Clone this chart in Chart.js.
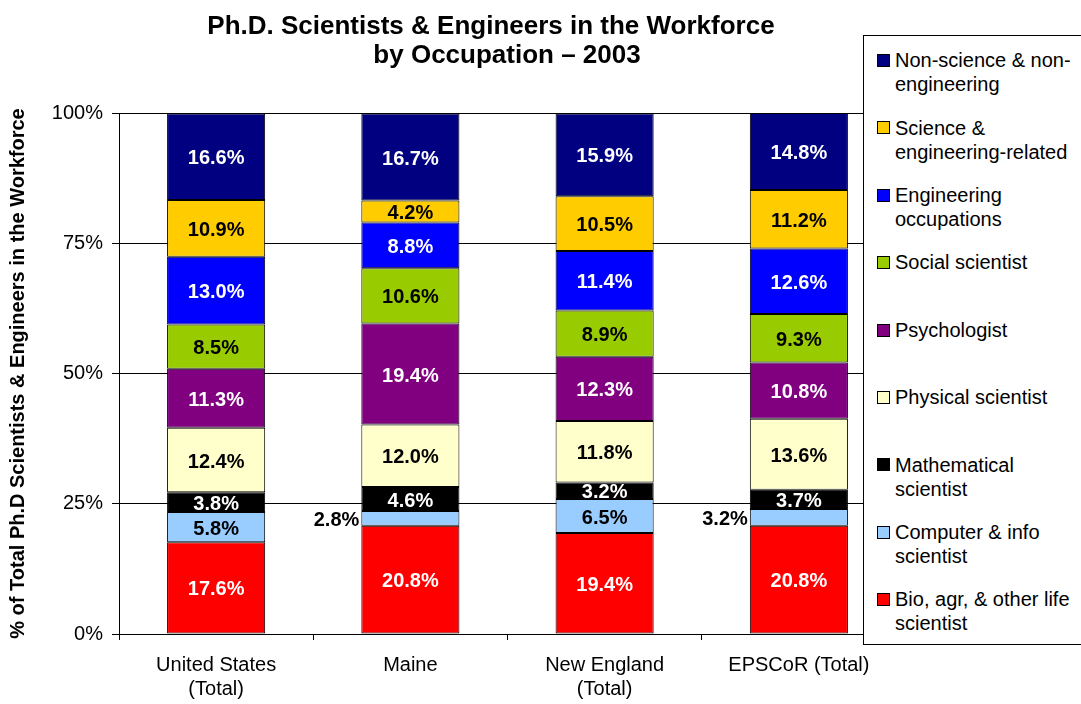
<!DOCTYPE html>
<html>
<head>
<meta charset="utf-8">
<script src="https://cdn.jsdelivr.net/npm/chart.js@4"></script>
<style>
  body { margin: 0; background: #fff; font-family: Arial, "Liberation Sans", sans-serif; color: #000; }
  #wrap { position: relative; width: 1081px; height: 704px; overflow: hidden; }
  #chart { position: absolute; left: 0; top: 0; }
  .title { position: absolute; font-weight: bold; font-size: 26px; line-height: 30px; white-space: nowrap; transform: translateX(-50%); }
  #legend { position: absolute; left: 863px; top: 35px; width: 240px; height: 608px; border: 1px solid #000; background: #fff; }
  .swatch { position: absolute; left: 13px; width: 11px; height: 11px; border: 1px solid #000; }
  .text { position: absolute; left: 31px; font-size: 20px; line-height: 24px; white-space: nowrap; }
</style>
</head>
<body>
<div id="wrap">
  <canvas id="chart" width="1081" height="704"></canvas>
  <div class="title" style="left:491px; top:10px;">Ph.D. Scientists &amp; Engineers in the Workforce</div>
  <div class="title" style="left:507px; top:39px;">by Occupation – 2003</div>
  <div id="legend"></div>
</div>
<script>
// columns
const categories = [['United States', '(Total)'], 'Maine', ['New England', '(Total)'], 'EPSCoR (Total)'];

// occupation shares (%), one array per stack segment, bottom to top
const bioLife      = [17.6, 20.8, 19.4, 20.8];
const computerInfo = [5.8, 2.8, 6.5, 3.2];
const mathematical = [3.8, 4.6, 3.2, 3.7];
const physical     = [12.4, 12.0, 11.8, 13.6];
const psychologist = [11.3, 19.4, 12.3, 10.8];
const social       = [8.5, 10.6, 8.9, 9.3];
const engineering  = [13.0, 8.8, 11.4, 12.6];
const seRelated    = [10.9, 4.2, 10.5, 11.2];
const nonScience   = [16.6, 16.7, 15.9, 14.8];

const yTicks = [0, 25, 50, 75, 100];

const series = [
  { lines: ['Bio, agr, & other life', 'scientist'], data: bioLife,      color: '#FF0000', text: '#fff' },
  { lines: ['Computer & info', 'scientist'],        data: computerInfo, color: '#99CCFF', text: '#000' },
  { lines: ['Mathematical', 'scientist'],           data: mathematical, color: '#000000', text: '#fff' },
  { lines: ['Physical scientist'],                  data: physical,     color: '#FFFFCC', text: '#000' },
  { lines: ['Psychologist'],                        data: psychologist, color: '#800080', text: '#fff' },
  { lines: ['Social scientist'],                    data: social,       color: '#99CC00', text: '#000' },
  { lines: ['Engineering', 'occupations'],          data: engineering,  color: '#0000FF', text: '#fff' },
  { lines: ['Science &', 'engineering-related'],    data: seRelated,    color: '#FFCC00', text: '#000' },
  { lines: ['Non-science & non-', 'engineering'],   data: nonScience,   color: '#000080', text: '#fff' }
];

Chart.defaults.font.family = 'Arial, "Liberation Sans", sans-serif';
Chart.defaults.color = '#000';

// percentage text on each segment; thin light segments get it beside the bar
const valueLabels = {
  id: 'valueLabels',
  afterDatasetsDraw(chart) {
    const ctx = chart.ctx;
    ctx.save();
    ctx.font = 'bold 20px Arial, "Liberation Sans", sans-serif';
    ctx.textBaseline = 'middle';
    chart.data.datasets.forEach((ds, i) => {
      chart.getDatasetMeta(i).data.forEach((bar, j) => {
        const v = ds.data[j];
        const txt = v.toFixed(1) + '%';
        const p = bar.getProps(['x', 'y', 'base', 'width'], true);
        const cy = (p.y + p.base) / 2 + 2;
        if (v < 3.5 && ds.labelColor === '#000') {
          ctx.fillStyle = '#000';
          ctx.textAlign = 'right';
          ctx.fillText(txt, p.x - p.width / 2 - 2, cy);
        } else {
          ctx.fillStyle = ds.labelColor;
          ctx.textAlign = 'center';
          ctx.fillText(txt, p.x, cy);
        }
      });
    });
    ctx.restore();
  }
};

new Chart(document.getElementById('chart'), {
  type: 'bar',
  data: {
    labels: categories,
    datasets: series.map(s => ({
      label: s.lines.join(' '),
      data: s.data,
      backgroundColor: s.color,
      borderColor: '#000',
      borderWidth: 1,
      borderSkipped: false,
      labelColor: s.text,
      barPercentage: 0.505,
      categoryPercentage: 1
    }))
  },
  options: {
    responsive: false,
    animation: false,
    layout: { padding: { top: 113, right: 185, bottom: 0, left: 0 } },
    plugins: { legend: { display: false }, tooltip: { enabled: false } },
    scales: {
      x: {
        stacked: true,
        grid: { drawOnChartArea: false, drawTicks: true, tickLength: 6, color: '#000', offset: true },
        border: { color: '#000' },
        ticks: { color: '#000', font: { size: 20, lineHeight: 1.22 }, padding: 13, maxRotation: 0, autoSkip: false },
        afterFit(scale) { scale.height = 70; }
      },
      y: {
        stacked: true,
        min: 0,
        max: 100,
        afterBuildTicks(scale) { scale.ticks = yTicks.map(v => ({ value: v })); },
        ticks: { callback: v => v + '%', color: '#000', font: { size: 20 }, padding: 9 },
        grid: { color: '#000', tickLength: 7 },
        border: { color: '#000' },
        title: {
          display: true,
          text: '% of Total Ph.D Scientists & Engineers in the Workforce',
          color: '#000',
          font: { size: 20, weight: 'bold' },
          padding: { top: 6, bottom: 0 }
        },
        afterFit(scale) { scale.width = 119; }
      }
    }
  },
  plugins: [valueLabels]
});

// boxed legend, top segment first
const legend = document.getElementById('legend');
series.slice().reverse().forEach((s, i) => {
  const mid = 60 + 67.4 * i - 36;
  const sw = document.createElement('div');
  sw.className = 'swatch';
  sw.style.top = (mid - 6) + 'px';
  sw.style.background = s.color;
  legend.appendChild(sw);
  const tx = document.createElement('div');
  tx.className = 'text';
  tx.style.top = (mid - 11.8) + 'px';
  tx.innerHTML = s.lines.map(l => l.replace(/&/g, '&amp;')).join('<br>');
  legend.appendChild(tx);
});
</script>
</body>
</html>
